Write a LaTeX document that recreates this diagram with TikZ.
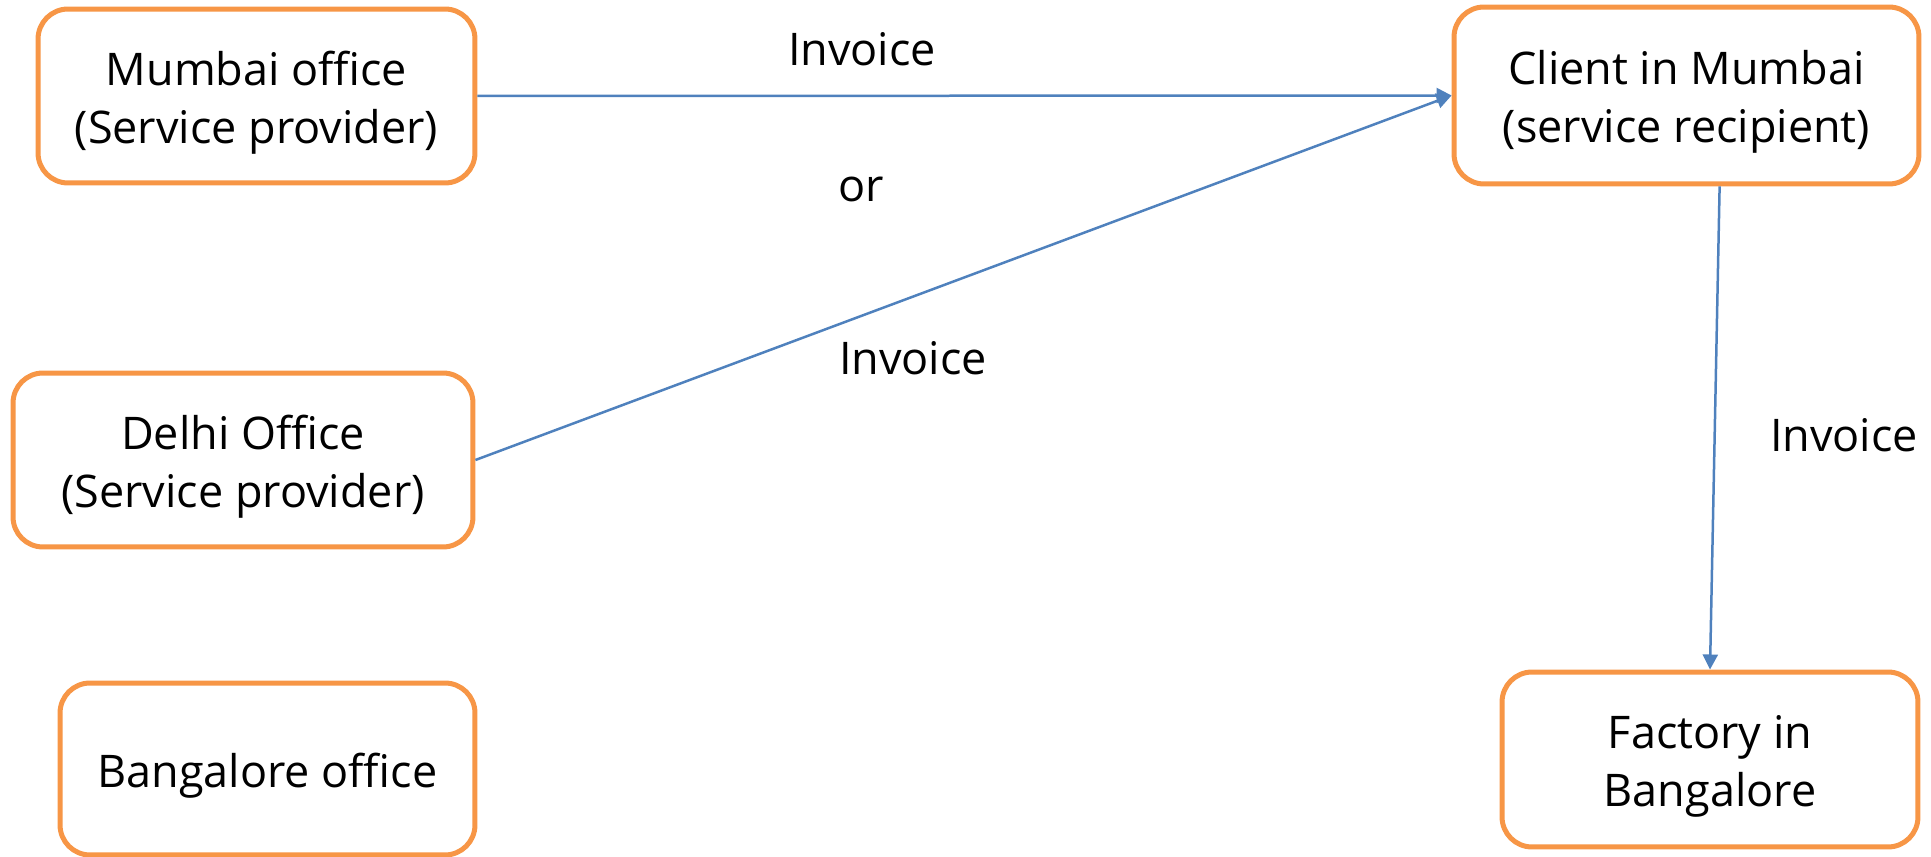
\documentclass[tikz,border=0pt]{standalone}
\usepackage{fontspec}
\setmainfont{Open Sans}
\usetikzlibrary{arrows.meta,positioning}
\definecolor{invInk}{HTML}{000000}
\definecolor{invOrange}{HTML}{F79646}
\definecolor{invBlue}{HTML}{4F81BD}
\newcommand{\invstrut}{\rule{0pt}{27pt}}
\tikzset{
  every picture/.style={font=\fontsize{25.6}{33}\selectfont, text=invInk},
  inv box/.style={draw=invOrange, line width=0.1cm, rounded corners=0.6cm,
    fill=white, align=center, inner sep=0pt},
  inv arrow/.style={-{Triangle[length=0.3cm,width=0.3cm]},
    draw=invBlue, line width=0.05cm},
  inv label/.style={anchor=base, inner sep=0pt}
}
\begin{document}
\begin{tikzpicture}[x=0.02cm,y=-0.02cm]
  \useasboundingbox (0,0) rectangle (1931,857);
  \node[inv box, minimum width=8.74cm, minimum height=3.48cm] (mumbai) at (256.5,96) {\invstrut Mumbai office\\(Service provider)};
  \node[inv box, minimum width=9.2cm, minimum height=3.48cm] (delhi) at (243,460) {\invstrut Delhi Office\\(Service provider)};
  \node[inv box, minimum width=8.3cm, minimum height=3.44cm] (bangalore) at (267.5,769) {\invstrut Bangalore office};
  \node[inv box, minimum width=9.3cm, minimum height=3.54cm] (client) at (1686.5,95.5) {\invstrut Client in Mumbai\\(service recipient)};
  \node[inv box, minimum width=8.32cm, minimum height=3.5cm] (factory) at (1710,759.5) {\invstrut Factory in\\Bangalore};
  \draw[inv arrow] (mumbai.east) -- (client.west);
  \draw[inv arrow] (delhi.east) -- (client.west);
  \draw[inv arrow] (client.-70) -- (factory.north);
  \node[inv label] (invtop) at (862,66) {Invoice};
  \node[inv label] (ortext) at (861,202) {or};
  \node[inv label] (invmid) at (913,375) {Invoice};
  \node[inv label] (invright) at (1844,452) {Invoice};
\end{tikzpicture}
\end{document}
